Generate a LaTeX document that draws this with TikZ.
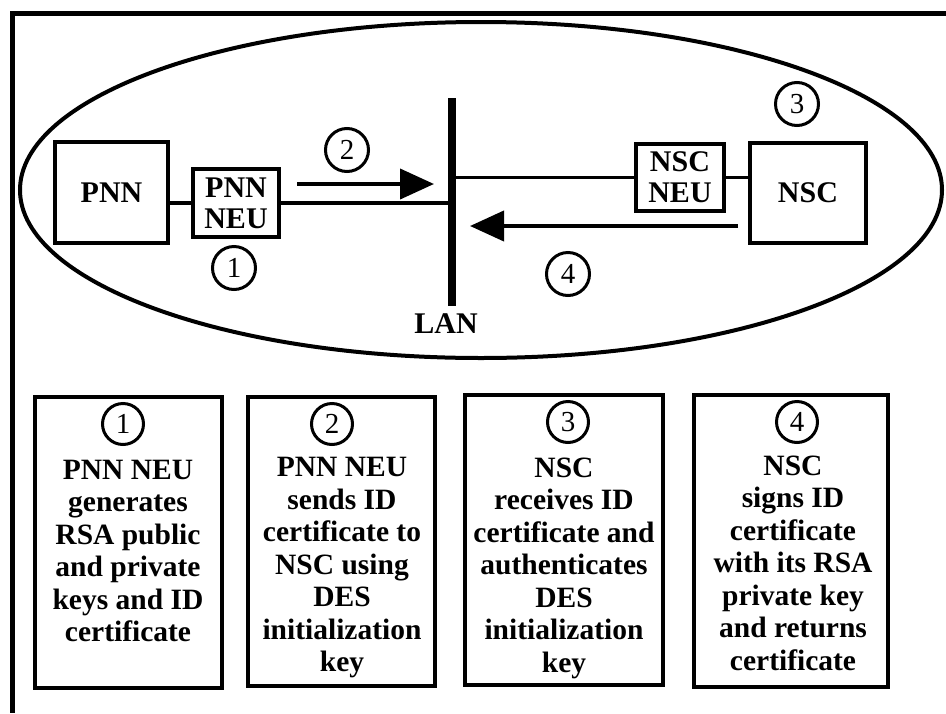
\documentclass[tikz,border=0pt]{standalone}
\usepackage{fontspec}
\setmainfont{Liberation Serif}
\usetikzlibrary{arrows.meta}
\begin{document}
\begin{tikzpicture}[x=1pt,y=-1pt,
  every node/.style={inner sep=0pt, font=\bfseries\fontsize{30}{31}\selectfont},
  unit/.style={draw, line width=3.5pt, align=center},
  wire/.style={line width=3.5pt},
  flow/.style={line width=4pt, -{Triangle[length=34pt,width=30pt]}},
  num/.style={draw, circle, line width=3pt, minimum size=43pt, font=\fontsize{29}{29}\selectfont},
  pnum/.style={num, minimum size=41pt},
  panel/.style={draw, line width=4.5pt},
  desc/.style={align=center, font=\bfseries\fontsize{29.5}{32.5}\selectfont}
]
\useasboundingbox (0,0) rectangle (946,713);
% frame
\draw[line width=5pt] (946,13) -- (12,13) -- (12,713);
% ellipse
\draw[line width=4pt] (481,190) ellipse [x radius=461, y radius=168];
% units
\node[unit, minimum width=113pt, minimum height=101pt] (PNN) at (111.5,192.5) {PNN};
\node[unit, minimum width=86pt, minimum height=68pt] (PNNNEU) at (236,203) {PNN\\NEU};
\node[unit, minimum width=88pt, minimum height=67pt] (NSCNEU) at (680,177.5) {NSC\\NEU};
\node[unit, minimum width=116pt, minimum height=100pt] (NSC) at (808,193) {NSC};
% LAN
\coordinate (lanTop) at (452,98);
\coordinate (lanBot) at (452,306);
\draw[line width=8pt] (lanTop) -- (lanBot);
\node (LAN) at (446,324) {LAN};
% wires
\draw[wire] (PNN.east |- PNNNEU.west) -- (PNNNEU.west);
\draw[wire] (PNNNEU.east) -- (lanTop |- PNNNEU.east);
\draw[wire] (lanTop |- NSCNEU.west) -- (NSCNEU.west);
\draw[wire] (NSCNEU.east) -- (NSC.west |- NSCNEU.east);
% flows
\coordinate (a2s) at (297,184);
\coordinate (a2e) at (434,184);
\coordinate (a4s) at (738,226);
\coordinate (a4e) at (470,226);
\draw[flow] (a2s) -- (a2e);
\draw[flow] (a4s) -- (a4e);
% step numbers
\node[num] (c1) at (234,268) {1};
\node[num] (c2) at (347,150) {2};
\node[num] (c3) at (797,104) {3};
\node[num] (c4) at (568,274) {4};
% panels
\node[panel, minimum width=187pt, minimum height=291pt] (B1) at (128.5,542.5) {};
\node[panel, minimum width=187pt, minimum height=289pt] (B2) at (341.5,541.5) {};
\node[panel, minimum width=198pt, minimum height=290pt] (B3) at (564,540) {};
\node[panel, minimum width=194pt, minimum height=292pt] (B4) at (791,541) {};
\node[pnum] (b1) at (123,424) {1};
\node[pnum] (b2) at (332,424) {2};
\node[pnum] (b3) at (568,422) {3};
\node[pnum] (b4) at (797,422) {4};
\node[desc] (t1) at (128,551) {PNN NEU\\generates\\RSA public\\and private\\keys and ID\\certificate};
\node[desc] (t2) at (342,568) {PNN NEU\\sends ID\\certificate to\\NSC using\\DES\\initialization\\key};
\node[desc] (t3) at (564,568) {NSC\\receives ID\\certificate and\\authenticates\\DES\\initialization\\key};
\node[desc] (t4) at (793,563) {NSC\\signs ID\\certificate\\with its RSA\\private key\\and returns\\certificate};
\end{tikzpicture}
\end{document}
